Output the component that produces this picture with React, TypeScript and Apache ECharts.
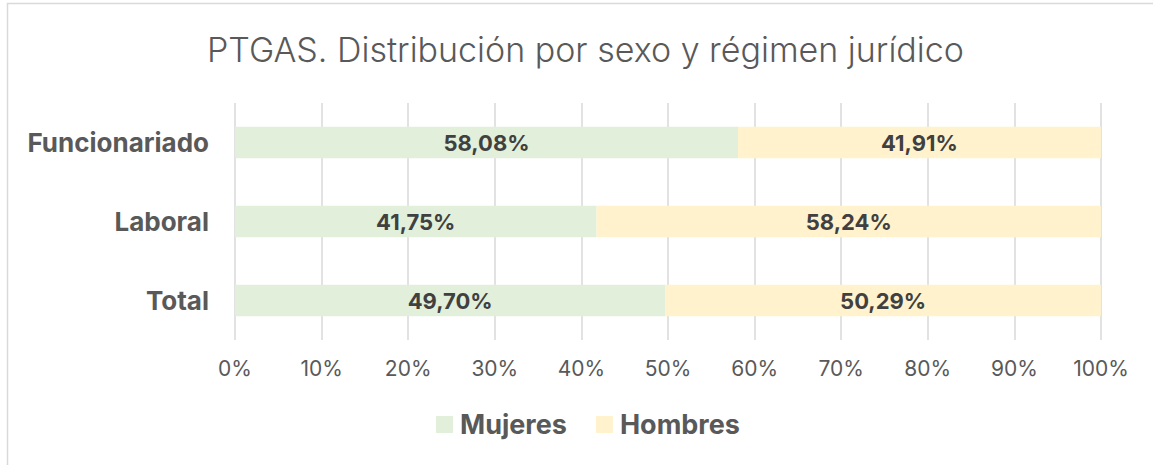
import React, { useEffect, useRef } from "react";
import * as echarts from "echarts";

const categories = ["Total", "Laboral", "Funcionariado"];
const mujeres = [49.7, 41.75, 58.08];
const hombres = [50.29, 58.24, 41.91];
const xTicks = [0, 10, 20, 30, 40, 50, 60, 70, 80, 90, 100];
const seriesNames = ["Mujeres", "Hombres"];
const titleText = "PTGAS. Distribución por sexo y régimen jurídico";

const FONT = "Inter, 'Noto Sans', sans-serif";

function fmt(v: number) {
  return v.toFixed(2).replace(".", ",") + "%";
}

export default function App() {
  const ref = useRef<HTMLDivElement>(null);
  useEffect(() => {
    if (!ref.current) return;
    const chart = echarts.init(ref.current, undefined, { renderer: "svg" });
    const labelStyle = {
      show: true,
      position: "inside" as const,
      formatter: (p: any) => fmt(p.value),
      color: "#404040",
      fontWeight: "bold" as const,
      fontSize: 22,
      fontFamily: FONT,
    };
    chart.setOption({
      animation: false,
      backgroundColor: "#ffffff",
      title: {
        text: titleText,
        left: 202,
        top: 27,
        textStyle: { color: "#595959", fontSize: 34, fontWeight: 300, fontFamily: FONT },
      },
      graphic: [
        {
          type: "rect",
          shape: { x: 7.5, y: 3.5, width: 1300, height: 600 },
          style: { fill: "none", stroke: "#d9d9d9", lineWidth: 1.5 },
          silent: true,
        },
      ],
      legend: {
        data: seriesNames,
        bottom: 22,
        left: 431,
        itemWidth: 17,
        itemHeight: 17,
        itemGap: 29,
        icon: "rect",
        textStyle: { color: "#595959", fontSize: 27, fontWeight: "bold", fontFamily: FONT, padding: [0, 0, 0, 2] },
      },
      grid: { left: 235, right: 52, top: 103, bottom: 125, containLabel: false },
      xAxis: {
        type: "value",
        min: xTicks[0],
        max: xTicks[xTicks.length - 1],
        interval: 10,
        axisLine: { show: false },
        axisTick: { show: false },
        splitLine: { show: true, lineStyle: { color: "#d9d9d9", width: 1.5 } },
        axisLabel: {
          formatter: (v: number) => v + "%",
          color: "#595959",
          fontSize: 21,
          margin: 18,
          fontFamily: FONT,
        },
      },
      yAxis: {
        type: "category",
        data: categories,
        axisLine: { show: false },
        axisTick: { show: false },
        axisLabel: {
          color: "#595959",
          fontSize: 26,
          fontWeight: "bold",
          margin: 26,
          fontFamily: FONT,
        },
      },
      series: [
        {
          name: seriesNames[0],
          type: "bar",
          stack: "s",
          data: mujeres,
          barWidth: "40%",
          itemStyle: { color: "#E2EFDA" },
          label: labelStyle,
        },
        {
          name: seriesNames[1],
          type: "bar",
          stack: "s",
          data: hombres,
          barWidth: "40%",
          itemStyle: { color: "#FFF2CC" },
          label: labelStyle,
        },
      ],
    });
    return () => chart.dispose();
  }, []);
  return (
    <div
      ref={ref}
      style={{ position: "fixed", left: 0, top: 0, width: 1153, height: 465 }}
    />
  );
}
